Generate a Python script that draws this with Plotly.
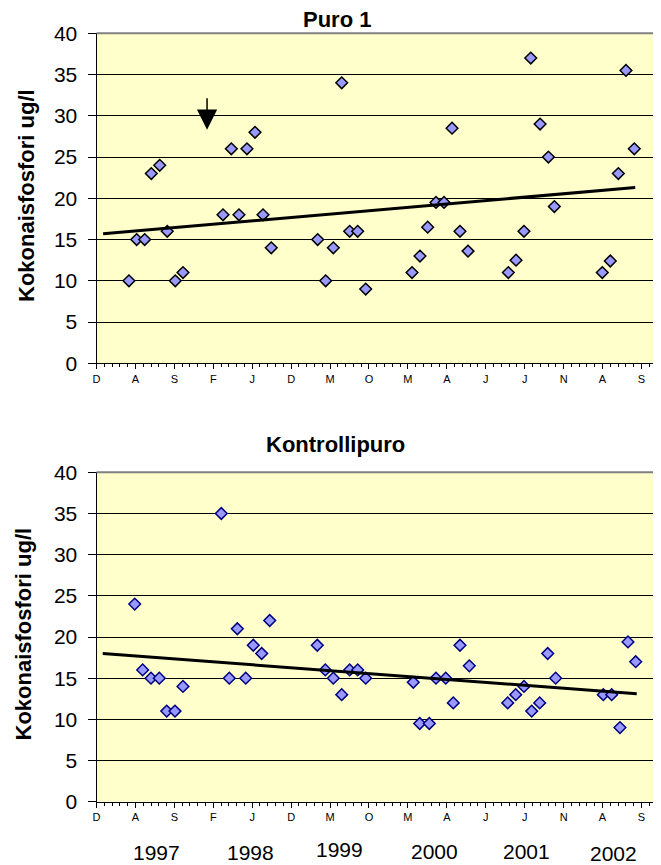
import plotly.graph_objects as go

# ---------------- data ----------------
month_labels = ["D", "A", "S", "F", "J", "D", "M", "O", "M", "A", "J", "J", "N", "A", "S"]
month_pos = [0, 5, 10, 15, 20, 25, 30, 35, 40, 45, 50, 55, 60, 65, 70]

year_labels = ["1997", "1998", "1999", "2000", "2001", "2002"]
year_pos = [7.67, 19.8, 31.18, 43.44, 55.17, 66.4]

puro_x = [4.17, 5.16, 6.19, 7.04, 8.12, 9.09, 10.12, 11.11,
          16.25, 17.32, 18.30, 19.33, 20.36, 21.39, 22.45,
          28.41, 29.44, 30.42, 31.50, 32.52, 33.55, 34.58,
          40.53, 41.55, 42.54, 43.61, 44.64, 45.67, 46.69, 47.72,
          52.90, 53.89, 54.91, 55.78, 56.98, 58.05, 58.81,
          64.97, 66.0, 67.03, 68.01, 69.08]
puro_y = [10, 15, 15, 23, 24, 16, 10, 11,
          18, 26, 18, 26, 28, 18, 14,
          15, 10, 14, 34, 16, 16, 9,
          11, 13, 16.5, 19.5, 19.5, 28.5, 16, 13.6,
          11, 12.5, 16, 37, 29, 25, 19,
          11, 12.4, 23, 35.5, 26]

kontrolli_x = [4.91, 5.93, 7.0, 8.07, 9.02, 10.08, 11.11,
               16.03, 17.06, 18.09, 19.17, 20.14, 21.22, 22.25,
               28.36, 29.39, 30.42, 31.50, 32.52, 33.55, 34.58,
               40.69, 41.52, 42.75, 43.61, 44.86, 45.83, 46.69, 47.89,
               52.82, 53.85, 54.91, 55.90, 56.93, 57.96, 58.98,
               65.10, 66.18, 67.24, 68.27, 69.26]
kontrolli_y = [24, 16, 15, 15, 11, 11, 14,
               35, 15, 21, 15, 19, 18, 22,
               19, 16, 15, 13, 16, 16, 15,
               14.5, 9.5, 9.5, 15, 15, 12, 19, 16.5,
               12, 13, 14, 11, 12, 18, 15,
               13, 13, 9, 19.4, 17]

puro_trend_x = [0.85, 69.2]
puro_trend_y = [15.7, 21.3]
kontrolli_trend_x = [0.8, 69.4]
kontrolli_trend_y = [18.0, 13.1]

arrow_x = 14.2
arrow_y = 28.3

# ---------------- figure ----------------
OFF = 8  # page body margin
W, H = 661 - OFF, 865 - OFF
FONT = "Arial, Liberation Sans, sans-serif"
FILL = "#9999FF"


def px(pix):
    return (pix - OFF) / W


def py(pix):
    return 1 - (pix - OFF) / H


fig = go.Figure()

fig.add_trace(go.Scatter(x=puro_x, y=puro_y, mode="markers", xaxis="x", yaxis="y",
                         marker=dict(symbol="diamond", size=9, color=FILL,
                                     line=dict(color="black", width=1.5)),
                         showlegend=False))
fig.add_trace(go.Scatter(x=puro_trend_x, y=puro_trend_y, mode="lines", xaxis="x", yaxis="y",
                         line=dict(color="black", width=3), showlegend=False))

fig.add_trace(go.Scatter(x=kontrolli_x, y=kontrolli_y, mode="markers", xaxis="x2", yaxis="y2",
                         marker=dict(symbol="diamond", size=9, color=FILL,
                                     line=dict(color="#000080", width=1.5)),
                         showlegend=False))
fig.add_trace(go.Scatter(x=kontrolli_trend_x, y=kontrolli_trend_y, mode="lines", xaxis="x2", yaxis="y2",
                         line=dict(color="black", width=3), showlegend=False))

x_left = px(96.5)
x_range = [0, (661 - 96.5) / 7.785]

xaxis_common = dict(
    domain=[x_left, 1.0], range=x_range, showgrid=False, zeroline=False,
    showline=True, linecolor="black", linewidth=1, automargin=False,
    tickmode="array", tickvals=month_pos, ticktext=month_labels,
    ticks="outside", ticklen=5, tickcolor="black", tickwidth=1,
    tickfont=dict(family=FONT, size=11, color="black"),
    minor=dict(dtick=1, tick0=0, ticks="outside", ticklen=3, tickcolor="black", showgrid=False),
    fixedrange=True,
)
yaxis_common = dict(
    range=[0, 40], dtick=5, tick0=0, showgrid=True, gridcolor="black", gridwidth=1,
    zeroline=False, showline=True, linecolor="black", linewidth=1, automargin=False,
    ticks="outside", ticklen=8, tickcolor="black", ticklabelstandoff=6,
    tickfont=dict(family=FONT, size=21, color="black"),
    fixedrange=True,
)

fig.update_layout(
    width=W, height=H,
    margin=dict(l=0, r=0, t=0, b=0, autoexpand=False),
    paper_bgcolor="white", plot_bgcolor="#FFFFCC",
    xaxis=dict(**xaxis_common, anchor="y"),
    yaxis=dict(**yaxis_common, domain=[py(363.3), py(33.3)], anchor="x"),
    xaxis2=dict(**xaxis_common, anchor="y2"),
    yaxis2=dict(**yaxis_common, domain=[py(801.7), py(472.3)], anchor="x2"),
)

# grey top border of each plot area
for yref in ["y domain", "y2 domain"]:
    fig.add_shape(type="line", xref="paper", yref=yref, x0=x_left, x1=1.0, y0=1, y1=1,
                  line=dict(color="#808080", width=2))

annotations = []
# chart titles
annotations.append(dict(text="<b>Puro 1</b>", xref="paper", yref="paper", x=px(337), y=py(19.5),
                        showarrow=False, xanchor="center", yanchor="middle", borderpad=0,
                        font=dict(family=FONT, size=22, color="black")))
annotations.append(dict(text="<b>Kontrollipuro</b>", xref="paper", yref="paper", x=px(335.5), y=py(444),
                        showarrow=False, xanchor="center", yanchor="middle", borderpad=0,
                        font=dict(family=FONT, size=22, color="black")))
# y axis titles
for xp, yp in [(26, 196), (22.5, 634)]:
    annotations.append(dict(text="<b>Kokonaisfosfori ug/l</b>", xref="paper", yref="paper",
                            x=px(xp), y=py(yp), textangle=-90, showarrow=False,
                            xanchor="center", yanchor="middle",
                            font=dict(family=FONT, size=22, color="black")))
# year labels under lower chart
year_y_px = [852, 852, 849, 851, 851, 853]
for lab, xv, ypx in zip(year_labels, year_pos, year_y_px):
    annotations.append(dict(text=lab, xref="x2", yref="paper", x=xv, y=py(ypx),
                            showarrow=False, xanchor="center", yanchor="middle", borderpad=0,
                            font=dict(family=FONT, size=21, color="black")))
# arrow marker in upper chart
annotations.append(dict(text="", xref="x", yref="y", x=arrow_x, y=arrow_y,
                        showarrow=True, arrowhead=2, arrowsize=2.7, arrowwidth=1.5,
                        arrowcolor="black", ax=0, ay=-33, standoff=0))

fig.update_layout(annotations=annotations)

fig.write_html("out.html")
